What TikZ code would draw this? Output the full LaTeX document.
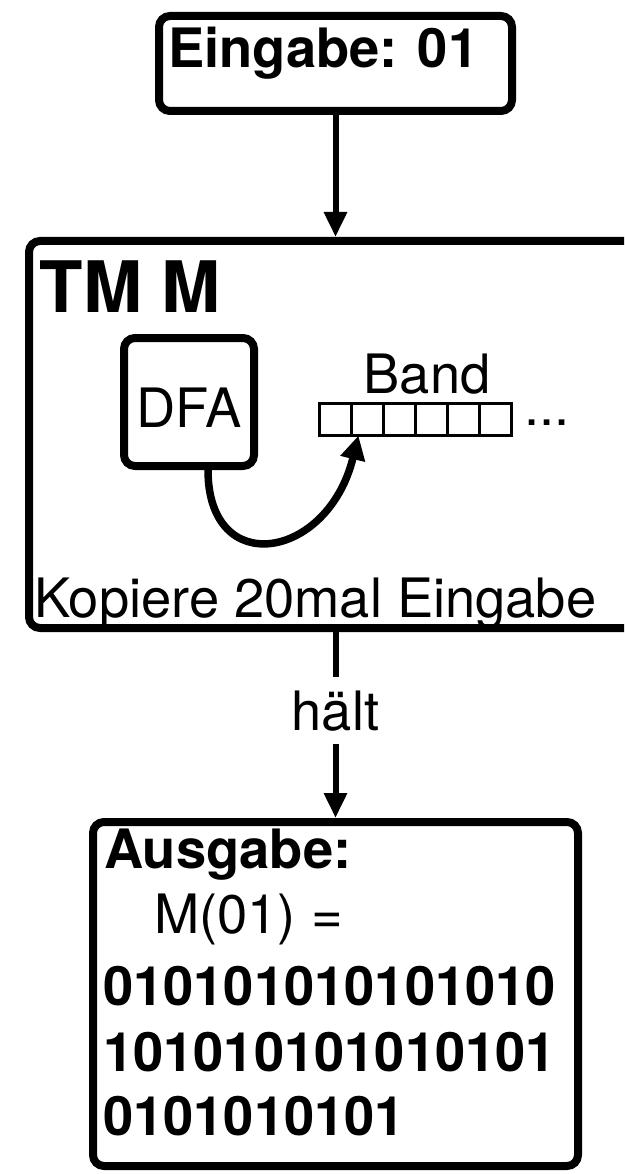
\documentclass[tikz,border=0pt]{standalone}
\usepackage{fontspec}
\setmainfont{TeX Gyre Heros}
\usetikzlibrary{arrows.meta}
\begin{document}
\begin{tikzpicture}[x=1pt,y=-1pt,
  box/.style={draw, line width=8pt, rounded corners=11pt, inner sep=0pt, anchor=north west},
  cell/.style={draw, line width=2.8pt, inner sep=0pt, outer sep=0pt,
               minimum width=32.03pt, minimum height=32.2pt},
  txt/.style={inner sep=0pt, anchor=base west, font=\fontsize{54.3}{65}\selectfont},
  btxt/.style={txt, font=\fontsize{54.3}{65}\selectfont\bfseries},
  title/.style={txt, font=\fontsize{71}{85}\selectfont\bfseries},
  flow/.style={line width=6pt, -{Triangle[length=25pt,width=22pt]}},
  curvedflow/.style={line width=7.5pt, -{Triangle[length=24pt,width=24pt]}},
]
\clip (0,0) rectangle (624,1174);

% input box
\node (inp) [box, minimum width=353pt, minimum height=95pt] at (155,12) {};
\node (inptxt) [btxt] at (168,68) {Eingabe: 01};

% the Turing machine
\node (tm) [box, minimum width=613pt, minimum height=387pt] at (25,237) {};
\node (tmtxt) [title] at (39.5,312) {TM M};
\node (dfa) [box, minimum width=130pt, minimum height=128pt] at (120,334) {};
\node (dfatxt) [txt, anchor=base] at (189,427) {DFA};
\node (band) [txt, anchor=base] at (427,393) {Band};
\foreach \i in {1,...,6}
  \node (c\i) [cell] at ({319.4+32.03*(\i-0.5)},419.5) {};
\node (dots) [txt] at (524,425) {...};
\node (copy) [txt] at (34,617) {Kopiere 20mal Eingabe};

% output box
\node (out) [box, minimum width=485pt, minimum height=344pt] at (89,818) {};
\node (outhead) [btxt] at (104,868) {Ausgabe:};
\node (outeq) [txt] at (154,933) {M(01) =};
\node (line1) [btxt] at (103,1005) {010101010101010};
\node (line2) [btxt] at (103,1071) {101010101010101};
\node (line3) [btxt] at (103,1135) {0101010101};

% connectors
\draw[flow] (inp.south) -- (tm.north);
\node (halt) [txt, anchor=base, inner ysep=13pt] at (335.5,730) {hält};
\draw[line width=6pt] (tm.south) -- (halt.north);
\draw[flow] (halt.south) -- (out.north);

\coordinate (dfaout) at ([xshift=19pt]dfa.south);
\coordinate (head) at ([xshift=7pt]c2.south west);
\draw[curvedflow] (dfaout) .. controls (208,580) and (328,560) .. (head);
\end{tikzpicture}
\end{document}
